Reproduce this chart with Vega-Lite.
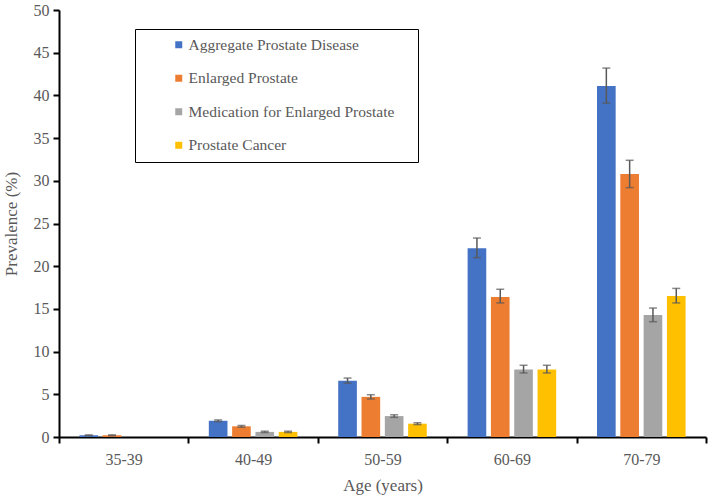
{
  "$schema": "https://vega.github.io/schema/vega-lite/v6.json",
  "width": 647,
  "height": 427,
  "autosize": {"type": "none"},
  "padding": {"left": 59, "top": 10, "right": 3, "bottom": 61},
  "background": "white",
  "config": {"view": {"stroke": null}, "font": "Liberation Serif"},
  "data": {"values": [
    {"age": "35-39", "series": "Aggregate Prostate Disease", "value": 0.2, "lo": 0.15, "hi": 0.25},
    {"age": "35-39", "series": "Enlarged Prostate", "value": 0.2, "lo": 0.15, "hi": 0.25},
    {"age": "35-39", "series": "Medication for Enlarged Prostate", "value": 0.0, "lo": null, "hi": null},
    {"age": "35-39", "series": "Prostate Cancer", "value": 0.0, "lo": null, "hi": null},
    {"age": "40-49", "series": "Aggregate Prostate Disease", "value": 1.9, "lo": 1.8, "hi": 2.0},
    {"age": "40-49", "series": "Enlarged Prostate", "value": 1.25, "lo": 1.15, "hi": 1.35},
    {"age": "40-49", "series": "Medication for Enlarged Prostate", "value": 0.6, "lo": 0.52, "hi": 0.68},
    {"age": "40-49", "series": "Prostate Cancer", "value": 0.6, "lo": 0.52, "hi": 0.68},
    {"age": "50-59", "series": "Aggregate Prostate Disease", "value": 6.6, "lo": 6.3, "hi": 6.9},
    {"age": "50-59", "series": "Enlarged Prostate", "value": 4.7, "lo": 4.45, "hi": 4.95},
    {"age": "50-59", "series": "Medication for Enlarged Prostate", "value": 2.45, "lo": 2.3, "hi": 2.6},
    {"age": "50-59", "series": "Prostate Cancer", "value": 1.56, "lo": 1.45, "hi": 1.67},
    {"age": "60-69", "series": "Aggregate Prostate Disease", "value": 22.1, "lo": 21.0, "hi": 23.3},
    {"age": "60-69", "series": "Enlarged Prostate", "value": 16.4, "lo": 15.7, "hi": 17.3},
    {"age": "60-69", "series": "Medication for Enlarged Prostate", "value": 7.9, "lo": 7.5, "hi": 8.4},
    {"age": "60-69", "series": "Prostate Cancer", "value": 7.9, "lo": 7.5, "hi": 8.4},
    {"age": "70-79", "series": "Aggregate Prostate Disease", "value": 41.1, "lo": 39.1, "hi": 43.2},
    {"age": "70-79", "series": "Enlarged Prostate", "value": 30.8, "lo": 29.2, "hi": 32.4},
    {"age": "70-79", "series": "Medication for Enlarged Prostate", "value": 14.3, "lo": 13.5, "hi": 15.1},
    {"age": "70-79", "series": "Prostate Cancer", "value": 16.5, "lo": 15.7, "hi": 17.4}
  ]},
  "encoding": {
    "x": {
      "field": "age", "type": "nominal",
      "sort": ["35-39", "40-49", "50-59", "60-69", "70-79"],
      "scale": {"paddingInner": 0, "paddingOuter": 0},
      "axis": {
        "title": "Age (years)", "labelAngle": 0, "tickBand": "extent",
        "domainColor": "black", "domainWidth": 2, "tickColor": "black", "tickWidth": 2, "tickSize": 6,
        "labelFont": "Liberation Serif", "labelFontSize": 16, "labelColor": "#595959", "labelPadding": 8,
        "titleFont": "Liberation Serif", "titleFontSize": 17, "titleFontWeight": "normal", "titleColor": "#595959", "titlePadding": 10
      }
    },
    "xOffset": {
      "field": "series", "type": "nominal",
      "sort": ["Aggregate Prostate Disease", "Enlarged Prostate", "Medication for Enlarged Prostate", "Prostate Cancer"],
      "scale": {"paddingInner": 0.2, "paddingOuter": 0.876}
    }
  },
  "layer": [
    {
      "mark": {"type": "bar"},
      "encoding": {
        "y": {
          "field": "value", "type": "quantitative",
          "scale": {"domain": [0, 50], "nice": false},
          "axis": {
            "title": "Prevalence (%)", "values": [0, 5, 10, 15, 20, 25, 30, 35, 40, 45, 50], "grid": false,
            "domainColor": "black", "domainWidth": 2, "tickColor": "black", "tickWidth": 2, "tickSize": 6,
            "labelFont": "Liberation Serif", "labelFontSize": 16, "labelColor": "#595959", "labelPadding": 4,
            "titleFont": "Liberation Serif", "titleFontSize": 17, "titleFontWeight": "normal", "titleColor": "#595959", "titlePadding": 13
          }
        },
        "color": {
          "field": "series", "type": "nominal",
          "sort": ["Aggregate Prostate Disease", "Enlarged Prostate", "Medication for Enlarged Prostate", "Prostate Cancer"],
          "scale": {"range": ["#4472C4", "#ED7D31", "#A5A5A5", "#FFC000"]},
          "legend": {
            "title": " ", "titleOrient": "right", "titlePadding": 16, "titleFontSize": 10,
            "orient": "none", "legendX": 76, "legendY": 19,
            "strokeColor": "black", "fillColor": "white", "padding": 8,
            "symbolType": "square", "symbolSize": 49, "symbolStrokeWidth": 0, "symbolOffset": 28,
            "labelFont": "Liberation Serif", "labelFontSize": 15.5, "labelColor": "#595959", "labelLimit": 400, "labelOffset": 2,
            "rowPadding": 16.5
          }
        }
      }
    },
    {
      "mark": {"type": "rule", "color": "#595959", "strokeWidth": 1.5},
      "encoding": {
        "y": {"field": "lo", "type": "quantitative"},
        "y2": {"field": "hi"}
      }
    },
    {
      "mark": {"type": "tick", "color": "#595959", "thickness": 1.5, "size": 8, "orient": "horizontal"},
      "encoding": {"y": {"field": "lo", "type": "quantitative"}}
    },
    {
      "mark": {"type": "tick", "color": "#595959", "thickness": 1.5, "size": 8, "orient": "horizontal"},
      "encoding": {"y": {"field": "hi", "type": "quantitative"}}
    }
  ]
}
